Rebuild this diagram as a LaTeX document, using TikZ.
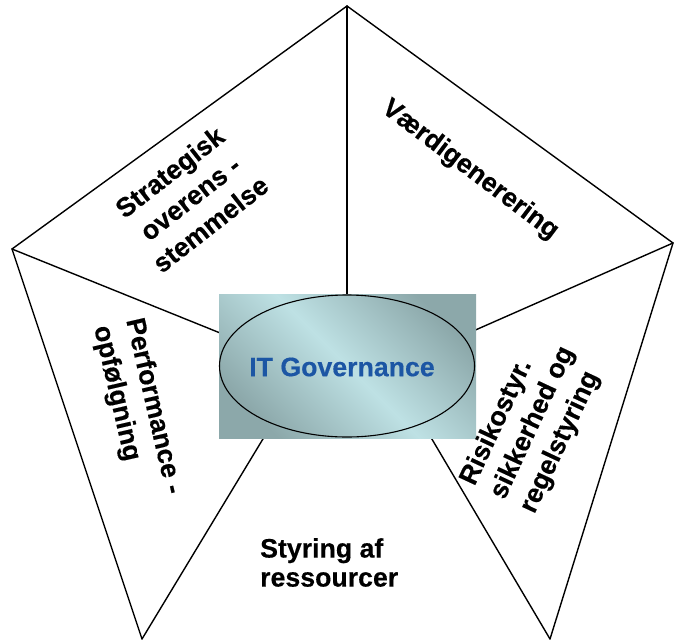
\documentclass[tikz,border=0pt]{standalone}
\usepackage{fontspec}
\setmainfont{Liberation Sans}[BoldFeatures={FakeBold=0.4}]
\usetikzlibrary{shapes.geometric}
\definecolor{boxdark}{RGB}{140,168,170}
\definecolor{boxlight}{RGB}{190,225,228}
\definecolor{itblue}{RGB}{28,86,164}
\begin{document}
\begin{tikzpicture}[x=1pt,y=-1pt,
  edge/.style={line width=1.4pt,line cap=round,line join=miter},
  lbl/.style={font=\bfseries\fontsize{26.7}{33}\selectfont, inner sep=0pt},
]
\useasboundingbox (0,0) rectangle (674,640);
% pentagon vertices
\coordinate (T) at (347,6);
\coordinate (R) at (673,243);
\coordinate (L) at (12,249);
\coordinate (BL) at (142,639);
\coordinate (BR) at (550,639);
% spoke ends (hidden under the centre box)
\coordinate (Te) at (347,310);
\coordinate (Le) at (240,341);
\coordinate (Re) at (455,339);
\coordinate (BLe) at (272,424);
\coordinate (BRe) at (423,424);
\draw[edge] (BL) -- (L) -- (T) -- (R) -- (BR);
\draw[edge] (T) -- (Te);
\draw[edge] (L) -- (Le);
\draw[edge] (R) -- (Re);
\draw[edge] (BL) -- (BLe);
\draw[edge] (BR) -- (BRe);
% centre box
\node (box) [rectangle, minimum width=257pt, minimum height=144pt, inner sep=0pt,
  top color=boxdark, bottom color=boxdark, middle color=boxlight, shading angle=-45]
  at (347.5,366) {};
\node (ell) [ellipse, draw, line width=1.1pt, minimum width=255pt, minimum height=142pt, inner sep=0pt] at (347,366) {};
\node (itg) [lbl, text=itblue] at (342,367) {IT Governance};
% labels
\node (strat) [lbl, rotate=38, align=center] at (190,198) {Strategisk\\overens -\\stemmelse};
\node (vaerdi) [lbl, rotate=-37] at (470,170) {Værdigenerering};
\node (perf) [lbl, rotate=-77, align=left] at (137,410) {Performance -\\opfølgning};
\node (risk) [lbl, rotate=65, align=left] at (533,423) {Risikostyr.\\sikkerhed og\\regelstyring};
\node (styr) [lbl, align=left, anchor=north west, font=\bfseries\fontsize{26.7}{29}\selectfont] at (260,538) {Styring af\\ressourcer};
\end{tikzpicture}
\end{document}
